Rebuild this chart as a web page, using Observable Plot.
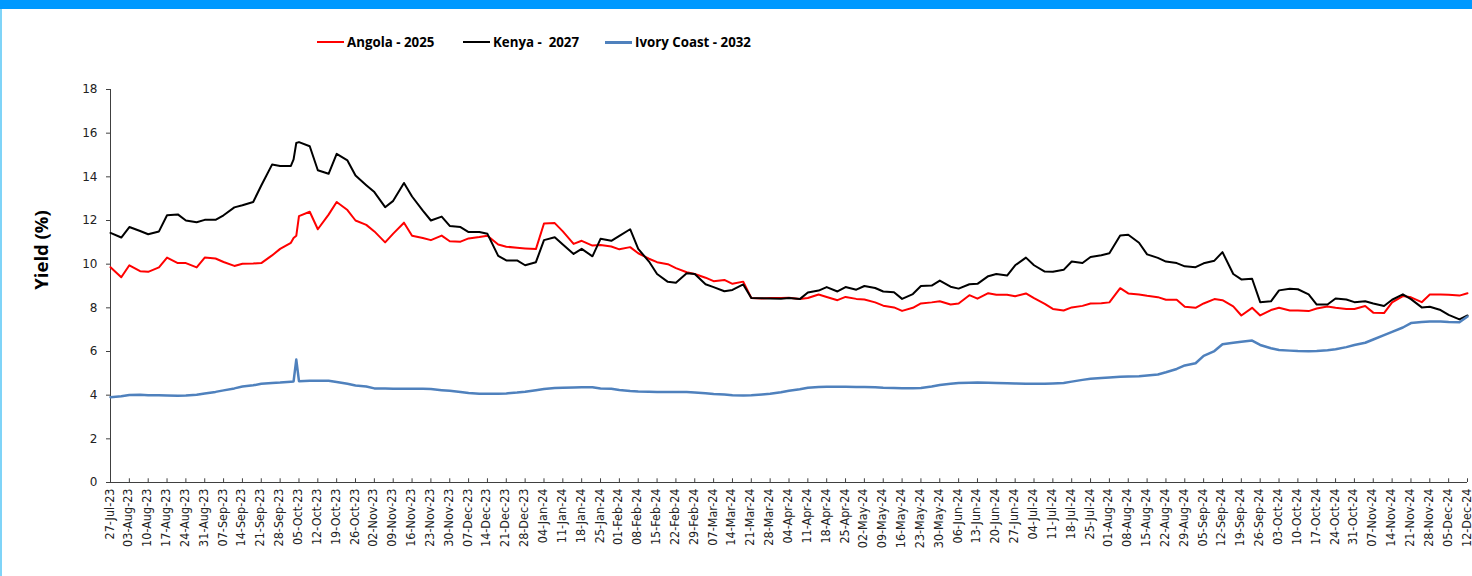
<!DOCTYPE html>
<html>
<head>
<meta charset="utf-8">
<script src="https://cdn.jsdelivr.net/npm/d3@7"></script>
<script src="https://cdn.jsdelivr.net/npm/@observablehq/plot@0.6"></script>
<style>
html,body{margin:0;padding:0;background:#fff;}
#wrap{position:relative;width:1472px;height:576px;overflow:hidden;background:#fff;}
#topbar{position:absolute;left:0;top:0;width:1472px;height:9px;background:#0099ff;}
#leftbar{position:absolute;left:0;top:9px;width:2px;height:567px;background:#7fd4f8;}
#chart{position:absolute;left:0;top:0;}
.item{position:absolute;top:34px;height:16px;display:flex;align-items:center;font:bold 13.3px "Open Sans",sans-serif;color:#000;white-space:pre;}
.sw{width:27px;height:2px;margin-right:3px;}
#ylabel{position:absolute;left:40px;top:250px;transform:translate(-50%,-50%) rotate(-90deg);font:bold 18.5px "Open Sans",sans-serif;color:#000;white-space:nowrap;}
</style>
</head>
<body>
<div id="wrap">
  <div id="chart"></div>
  <div id="topbar"></div>
  <div id="leftbar"></div>
  <div id="legend"></div>
  <div id="ylabel">Yield (%)</div>
</div>
<script>
const seriesNames = ["Angola - 2025", "Kenya -  2027", "Ivory Coast - 2032"];
const seriesColors = ["#ff0000", "#000000", "#4f81bd"];
const yTicks = [0, 2, 4, 6, 8, 10, 12, 14, 16, 18];

const dates = [
"2023-07-27","2023-07-31","2023-08-03","2023-08-07","2023-08-10","2023-08-14","2023-08-17","2023-08-21",
"2023-08-24","2023-08-28","2023-08-31","2023-09-04","2023-09-07","2023-09-11","2023-09-14","2023-09-18",
"2023-09-21","2023-09-25","2023-09-28","2023-10-02","2023-10-03","2023-10-04",
"2023-10-05","2023-10-09","2023-10-12","2023-10-16","2023-10-19","2023-10-23","2023-10-26","2023-10-30",
"2023-11-02","2023-11-06","2023-11-09","2023-11-13","2023-11-16","2023-11-20","2023-11-23","2023-11-27",
"2023-11-30","2023-12-04","2023-12-07","2023-12-11","2023-12-14","2023-12-18","2023-12-21","2023-12-25",
"2023-12-28","2024-01-01","2024-01-04","2024-01-08","2024-01-11","2024-01-15","2024-01-18","2024-01-22",
"2024-01-25","2024-01-29","2024-02-01","2024-02-05","2024-02-08","2024-02-12","2024-02-15","2024-02-19",
"2024-02-22","2024-02-26","2024-02-29","2024-03-04","2024-03-07","2024-03-11","2024-03-14","2024-03-18",
"2024-03-21","2024-03-25","2024-03-28","2024-04-01","2024-04-04","2024-04-08","2024-04-11","2024-04-15",
"2024-04-18","2024-04-22","2024-04-25","2024-04-29","2024-05-02","2024-05-06","2024-05-09","2024-05-13",
"2024-05-16","2024-05-20","2024-05-23","2024-05-27","2024-05-30","2024-06-03","2024-06-06","2024-06-10",
"2024-06-13","2024-06-17","2024-06-20","2024-06-24","2024-06-27","2024-07-01","2024-07-04","2024-07-08",
"2024-07-11","2024-07-15","2024-07-18","2024-07-22","2024-07-25","2024-07-29","2024-08-01","2024-08-05",
"2024-08-08","2024-08-12","2024-08-15","2024-08-19","2024-08-22","2024-08-26","2024-08-29","2024-09-02",
"2024-09-05","2024-09-09","2024-09-12","2024-09-16","2024-09-19","2024-09-23","2024-09-26","2024-09-30",
"2024-10-03","2024-10-07","2024-10-10","2024-10-14","2024-10-17","2024-10-21","2024-10-24","2024-10-28",
"2024-10-31","2024-11-04","2024-11-07","2024-11-11","2024-11-14","2024-11-18","2024-11-21","2024-11-25",
"2024-11-28","2024-12-02","2024-12-05","2024-12-09","2024-12-12"
];

const angola = [
9.86,9.4,9.95,9.68,9.65,9.85,10.3,10.05,
10.05,9.85,10.3,10.26,10.1,9.92,10.02,10.03,
10.05,10.4,10.7,10.98,11.2,11.3,
12.2,12.4,11.6,12.27,12.85,12.48,12.0,11.8,
11.5,11.0,11.4,11.9,11.3,11.2,11.1,11.31,
11.05,11.03,11.18,11.24,11.3,10.9,10.8,10.75,
10.72,10.69,11.86,11.88,11.5,10.93,11.07,10.85,
10.88,10.81,10.68,10.78,10.5,10.25,10.09,10.0,
9.82,9.63,9.55,9.38,9.22,9.28,9.1,9.2,
8.45,8.43,8.45,8.45,8.46,8.41,8.45,8.61,
8.5,8.35,8.5,8.41,8.38,8.25,8.1,8.02,
7.86,8.0,8.2,8.25,8.3,8.15,8.2,8.58,
8.42,8.67,8.6,8.6,8.53,8.66,8.44,8.18,
7.95,7.88,8.02,8.09,8.2,8.21,8.25,8.9,
8.66,8.61,8.55,8.49,8.37,8.37,8.05,8.0,
8.2,8.4,8.35,8.07,7.65,8.0,7.65,7.9,
8.0,7.88,7.88,7.85,7.97,8.06,8.0,7.95,
7.95,8.08,7.78,7.76,8.25,8.54,8.48,8.26,
8.61,8.61,8.6,8.56,8.67
];

const kenya = [
11.43,11.22,11.7,11.52,11.37,11.5,12.24,12.28,
12.0,11.92,12.03,12.03,12.24,12.6,12.7,12.85,
13.6,14.56,14.5,14.5,14.8,15.55,
15.59,15.4,14.3,14.14,15.05,14.75,14.06,13.62,
13.3,12.61,12.9,13.72,13.1,12.45,12.0,12.18,
11.75,11.7,11.47,11.47,11.39,10.38,10.17,10.17,
9.95,10.09,11.1,11.23,10.9,10.47,10.7,10.36,
11.16,11.07,11.3,11.6,10.7,10.12,9.55,9.19,
9.15,9.58,9.55,9.08,8.95,8.76,8.82,9.07,
8.45,8.44,8.43,8.42,8.45,8.4,8.7,8.79,
8.95,8.75,8.95,8.83,9.0,8.91,8.75,8.71,
8.41,8.63,9.0,9.02,9.25,8.97,8.88,9.08,
9.1,9.45,9.55,9.48,9.95,10.3,9.95,9.66,
9.65,9.74,10.12,10.05,10.33,10.41,10.5,11.31,
11.35,10.98,10.45,10.29,10.12,10.05,9.9,9.86,
10.04,10.16,10.55,9.55,9.3,9.33,8.26,8.3,
8.8,8.87,8.85,8.62,8.15,8.15,8.43,8.38,
8.26,8.3,8.2,8.08,8.37,8.62,8.4,8.02,
8.05,7.9,7.68,7.47,7.65
];

const ivoryCoast = [
3.91,3.95,4.01,4.02,4.0,4.0,3.99,3.97,
3.98,4.02,4.08,4.15,4.22,4.31,4.4,4.45,
4.52,4.56,4.58,4.62,4.63,5.63,
4.64,4.66,4.66,4.66,4.6,4.52,4.44,4.4,
4.31,4.3,4.29,4.29,4.29,4.29,4.28,4.23,
4.2,4.15,4.1,4.07,4.06,4.06,4.08,4.12,
4.16,4.23,4.28,4.33,4.34,4.35,4.36,4.36,
4.31,4.29,4.24,4.19,4.17,4.16,4.15,4.15,
4.14,4.14,4.12,4.09,4.05,4.03,4.0,3.99,
4.0,4.03,4.06,4.13,4.2,4.27,4.34,4.37,
4.38,4.39,4.38,4.37,4.37,4.36,4.34,4.33,
4.32,4.32,4.33,4.4,4.47,4.52,4.56,4.57,
4.58,4.57,4.56,4.55,4.54,4.52,4.52,4.52,
4.54,4.56,4.62,4.7,4.75,4.79,4.81,4.84,
4.85,4.87,4.9,4.95,5.05,5.2,5.36,5.46,
5.8,6.02,6.33,6.4,6.45,6.5,6.3,6.15,
6.07,6.04,6.02,6.01,6.02,6.06,6.1,6.2,
6.3,6.4,6.55,6.75,6.9,7.1,7.3,7.35,
7.37,7.37,7.35,7.34,7.6
];

const parse = d3.utcParse("%Y-%m-%d");
const xs = dates.map(parse);
const allValues = [angola, kenya, ivoryCoast];
const rows = allValues.flatMap((vals, s) =>
  vals.map((v, i) => ({date: xs[i], value: v, series: seriesNames[s]})));
const first = xs[0], last = xs[xs.length - 1];
const tickDates = d3.utcThursday.range(first, d3.utcDay.offset(last, 1));
const fmt = d3.utcFormat("%d-%b-%y");

const chart = Plot.plot({
  width: 1472,
  height: 576,
  marginTop: 89,
  marginBottom: 94,
  marginLeft: 110,
  marginRight: 5,
  style: {background: "transparent", color: "#222"},
  x: {type: "utc", domain: [first, last]},
  y: {domain: [0, 18]},
  marks: [
    Plot.ruleX([first], {stroke: "#404040", strokeWidth: 1}),
    Plot.axisY({ticks: yTicks, tickSize: 4, tickPadding: 9, stroke: "#404040",
      fontSize: 12, fontFamily: "DejaVu Sans", label: null, fill: "#222"}),
    Plot.ruleY([0], {stroke: "#404040", strokeWidth: 1}),
    Plot.axisX({ticks: tickDates, tickSize: 0, tickRotate: -90, tickPadding: 6, tickFormat: fmt,
      fontSize: 12.5, fontFamily: "'DejaVu Sans Condensed','Liberation Sans Narrow',sans-serif",
      label: null, fill: "#222", dx: -1}),
    Plot.ruleX(tickDates, {y1: 0, y2: 0.17, stroke: "#404040"}),
    ...seriesNames.map((name, s) =>
      Plot.line(rows.filter(d => d.series === name), {
        x: "date", y: "value", stroke: seriesColors[s],
        strokeWidth: s === 2 ? 2.5 : 2, strokeLinejoin: "round"
      }))
  ]
});
document.getElementById("chart").appendChild(chart);

const legendX = [317, 463, 605];
const legend = document.getElementById("legend");
seriesNames.forEach((name, i) => {
  const item = document.createElement("div");
  item.className = "item";
  item.style.left = legendX[i] + "px";
  const sw = document.createElement("span");
  sw.className = "sw";
  sw.style.background = seriesColors[i];
  if (i === 2) sw.style.height = "3px";
  const t = document.createElement("span");
  t.textContent = name;
  item.appendChild(sw);
  item.appendChild(t);
  legend.appendChild(item);
});
</script>
</body>
</html>
